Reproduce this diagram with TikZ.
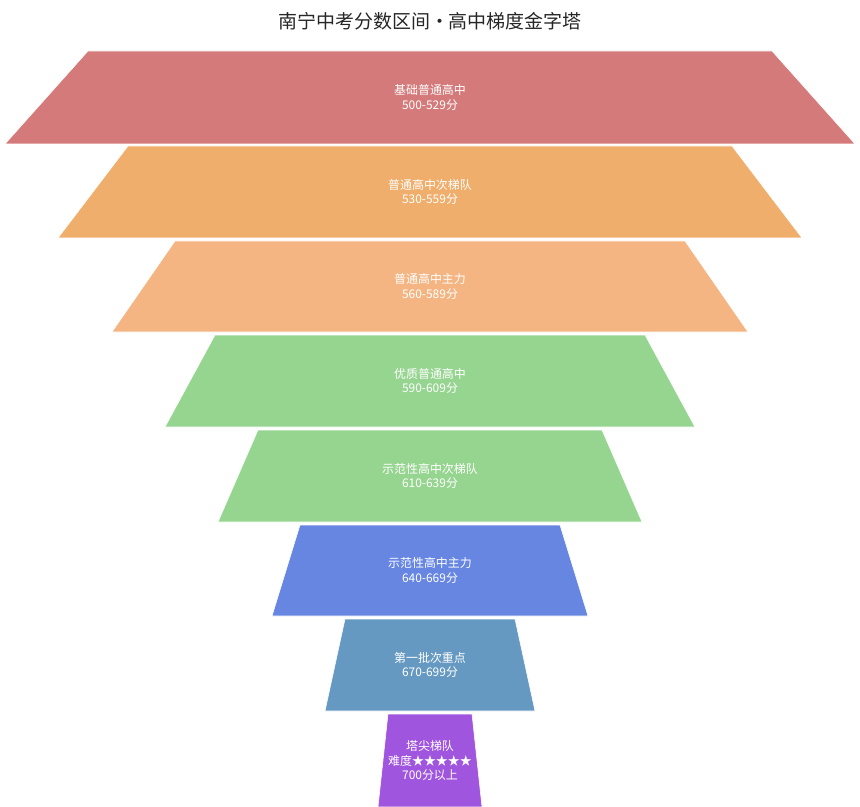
\documentclass[tikz,border=0pt]{standalone}
\usepackage{fontspec}
\setmainfont{Noto Sans CJK SC}
\usetikzlibrary{positioning, calc}
\definecolor{tierA}{HTML}{D47A7A}
\definecolor{tierB}{HTML}{F0AE6C}
\definecolor{tierC}{HTML}{F4B582}
\definecolor{tierD}{HTML}{96D590}
\definecolor{tierE}{HTML}{6686E2}
\definecolor{tierF}{HTML}{6699C2}
\definecolor{tierG}{HTML}{A055DF}
\tikzset{
    tier/.style={draw=white, line width=0.4pt},
    tier_label/.style={text=white, font=\fontsize{8.5}{10.5}\selectfont, align=center},
    title/.style={font=\fontsize{13.5}{16}\selectfont, text=black!85}
}
\begin{document}
\begin{tikzpicture}[x=0.025cm, y=-0.025cm]
    \useasboundingbox (0,0) rectangle (860,807);
    % title
    \node[title] (title) at (430,21) {南宁中考分数区间·高中梯度金字塔};
    % tiers: top y / bottom y / top half width / bottom half width / colour / text
    \foreach \ytop/\ybot/\wtop/\wbot/\col/\txt [count=\i] in {
        51/144/342/425/tierA/{基础普通高中\\500-529分},
        146/238/302/372/tierB/{普通高中次梯队\\530-559分},
        241/332/255/318/tierC/{普通高中主力\\560-589分},
        335/427/215/265/tierD/{优质普通高中\\590-609分},
        430/522/172/212/tierD/{示范性高中次梯队\\610-639分},
        525/616/130/158/tierE/{示范性高中主力\\640-669分},
        619/711/85/105/tierF/{第一批次重点\\670-699分},
        714/807/42/52/tierG/{塔尖梯队\\难度★★★★★\\700分以上}} {
        \fill[tier, fill=\col] (430-\wtop,\ytop) -- (430+\wtop,\ytop)
            -- (430+\wbot,\ybot) -- (430-\wbot,\ybot) -- cycle;
        \node[tier_label] (tier\i) at (430,{(\ytop+\ybot)/2}) {\txt};
    }
\end{tikzpicture}
\end{document}
